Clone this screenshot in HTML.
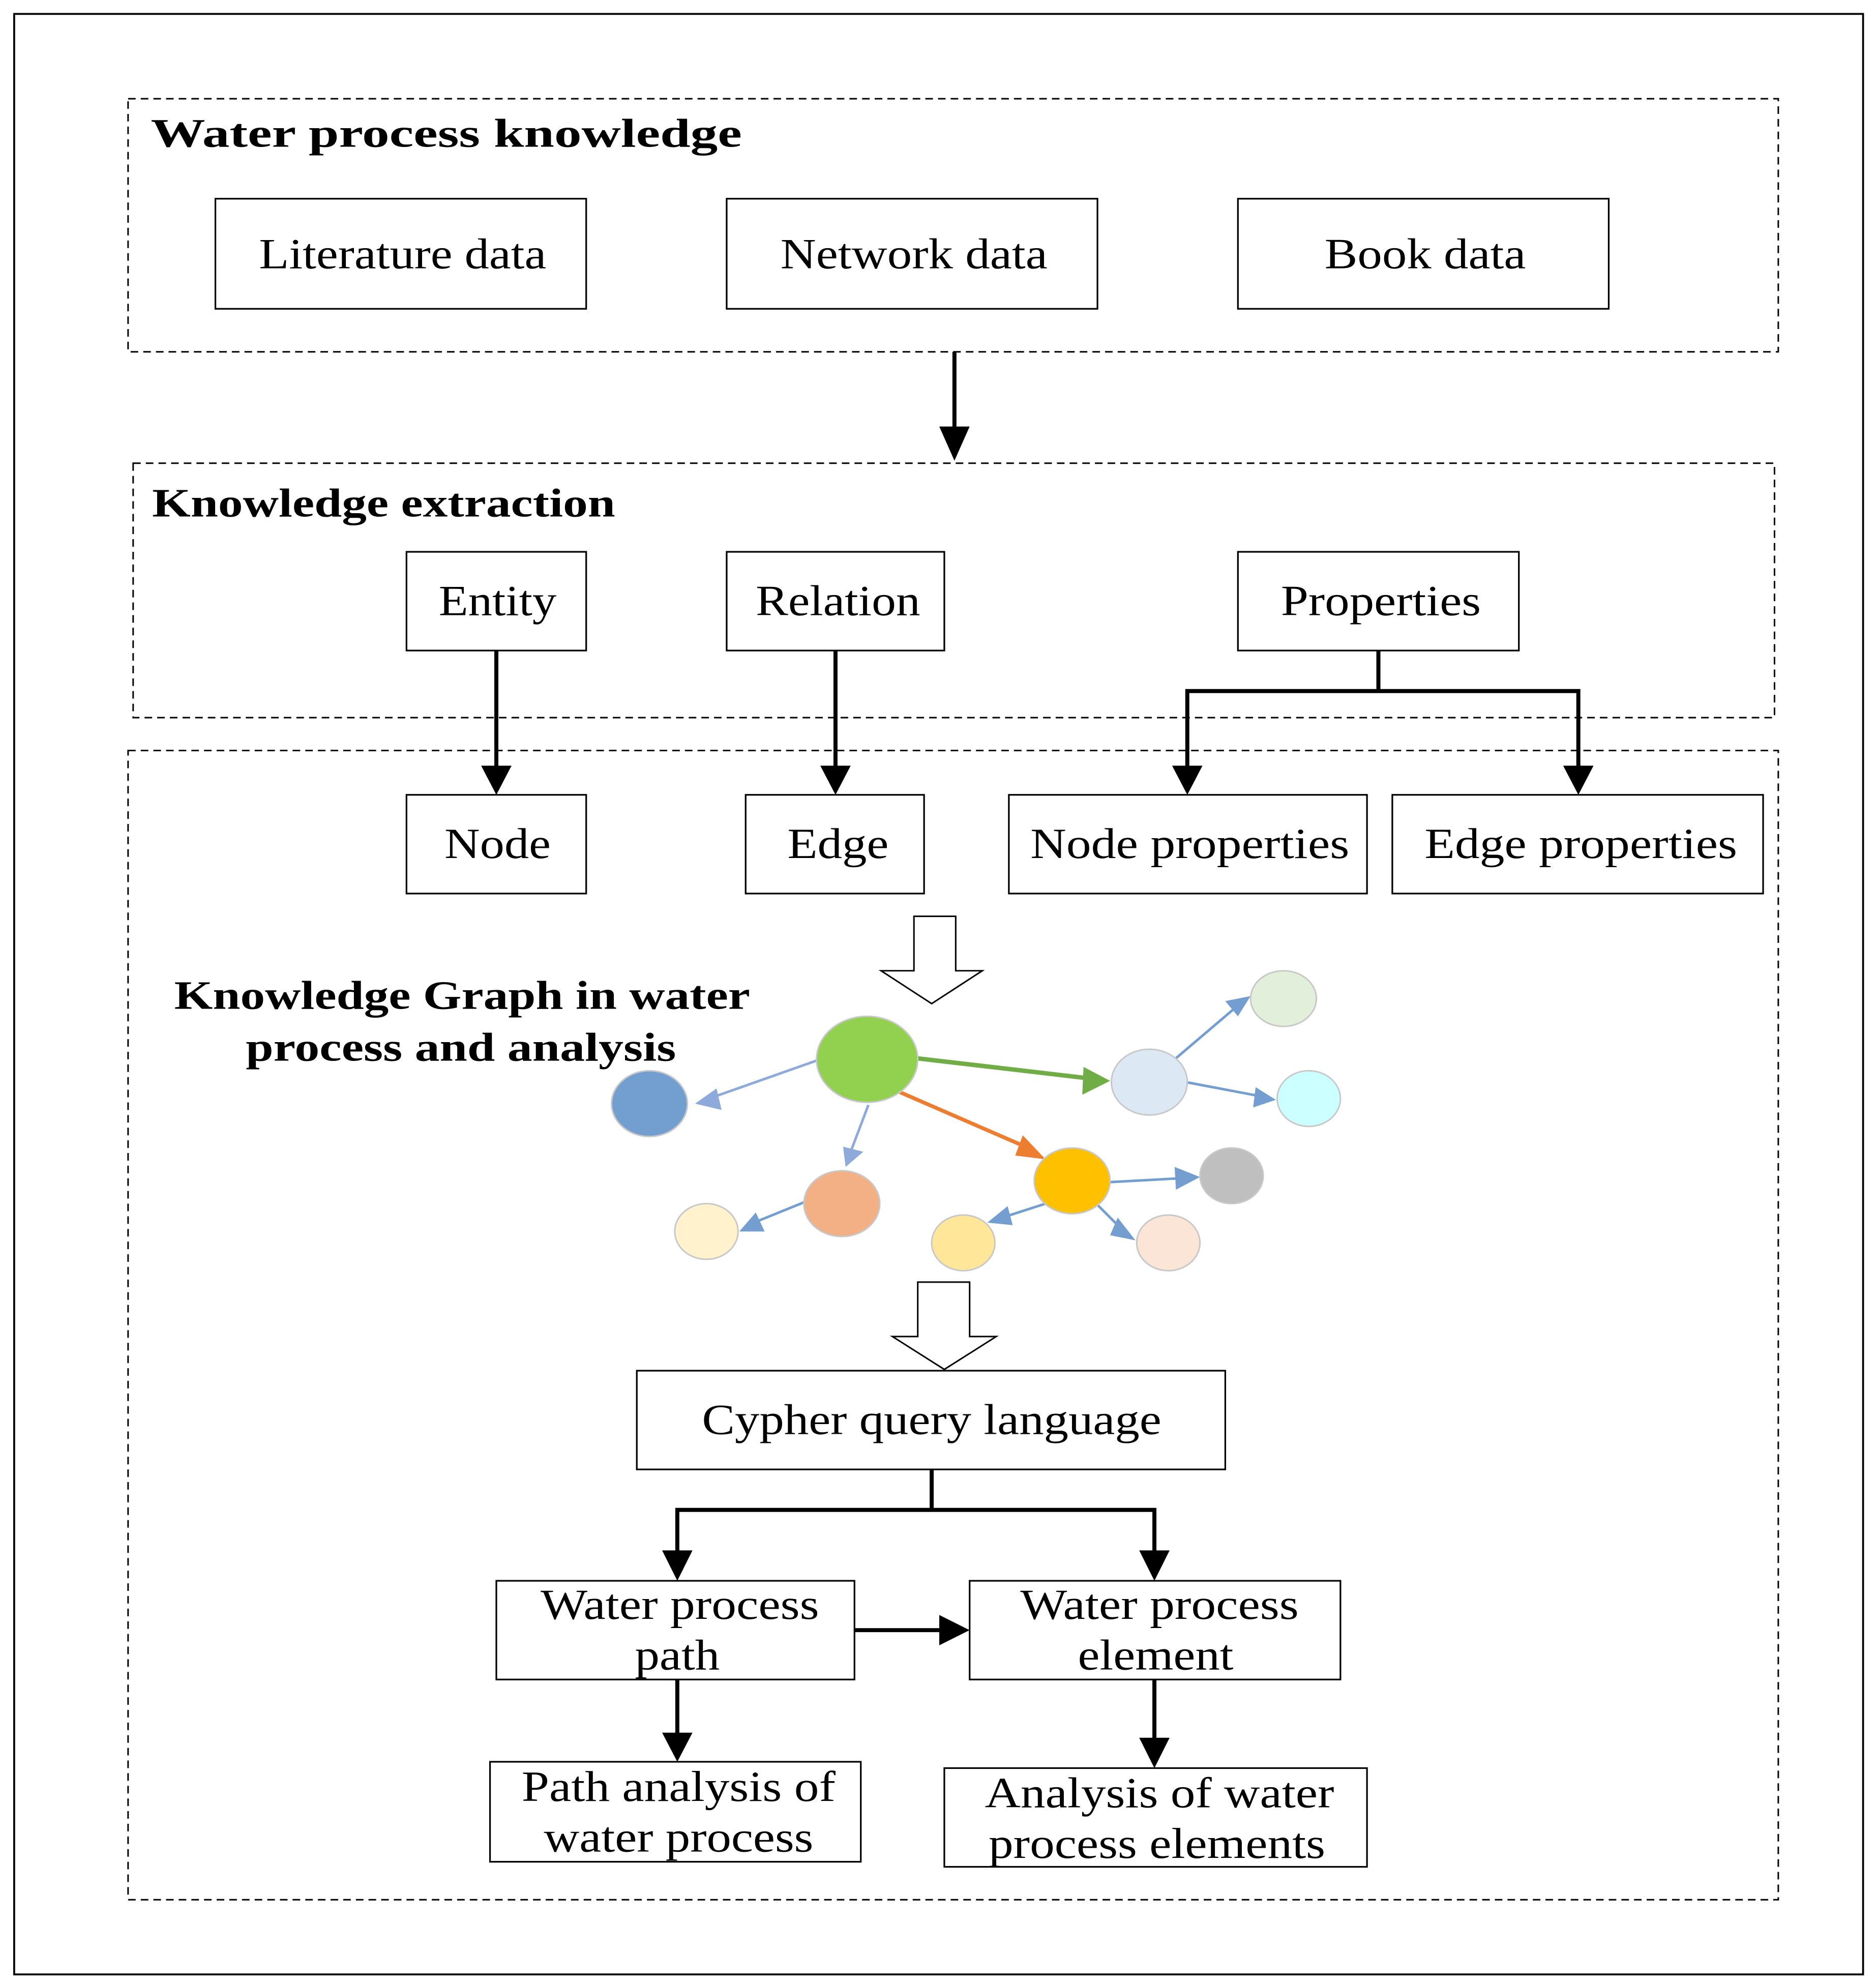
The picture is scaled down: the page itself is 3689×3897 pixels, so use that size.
<!DOCTYPE html>
<html><head><meta charset="utf-8"><style>
html,body{margin:0;padding:0;background:#fff;}
svg{display:block;}
text{font-family:"Liberation Serif",serif;fill:#000;}
.t{font-size:34px;text-anchor:middle;}
.b{font-size:32px;font-weight:bold;}
.box{fill:#fff;stroke:#000;stroke-width:1.3;}
.dash{fill:none;stroke:#000;stroke-width:1.2;stroke-dasharray:6,4;}
.ln{stroke:#000;stroke-width:3.2;fill:none;}
.el{stroke:#c8c8c8;stroke-width:1.2;}
</style></head><body>
<svg width="3689" height="3897" viewBox="0 0 1482 1566" xmlns="http://www.w3.org/2000/svg">
<rect x="0" y="0" width="1482" height="1566" fill="#fff"/>
<rect x="11" y="11" width="1461" height="1549" fill="none" stroke="#000" stroke-width="1.5"/>

<rect class="dash" x="101" y="78" width="1304" height="200"/>
<text class="b" x="119" y="116" textLength="467" lengthAdjust="spacingAndGlyphs">Water process knowledge</text>
<rect class="box" x="170" y="157" width="293" height="87"/><text class="t" x="318" y="212" textLength="227" lengthAdjust="spacingAndGlyphs">Literature data</text>
<rect class="box" x="574" y="157" width="293" height="87"/><text class="t" x="722" y="212" textLength="211" lengthAdjust="spacingAndGlyphs">Network data</text>
<rect class="box" x="978" y="157" width="293" height="87"/><text class="t" x="1126" y="212" textLength="159" lengthAdjust="spacingAndGlyphs">Book data</text>

<line class="ln" x1="754" y1="278" x2="754" y2="340"/><path d="M742,337 L766,337 L754,364z"/>

<rect class="dash" x="105" y="366" width="1297" height="201"/>
<text class="b" x="120" y="408" textLength="366" lengthAdjust="spacingAndGlyphs">Knowledge extraction</text>
<rect class="box" x="321" y="436" width="142" height="78"/><text class="t" x="393" y="486" textLength="93" lengthAdjust="spacingAndGlyphs">Entity</text>
<rect class="box" x="574" y="436" width="172" height="78"/><text class="t" x="662" y="486" textLength="130" lengthAdjust="spacingAndGlyphs">Relation</text>
<rect class="box" x="978" y="436" width="222" height="78"/><text class="t" x="1091" y="486" textLength="158" lengthAdjust="spacingAndGlyphs">Properties</text>

<rect class="dash" x="101" y="593" width="1304" height="908"/>
<line class="ln" x1="392" y1="514" x2="392" y2="608"/><path d="M380,605 L404,605 L392,628z"/>
<line class="ln" x1="660" y1="514" x2="660" y2="608"/><path d="M648,605 L672,605 L660,628z"/>
<path class="ln" d="M1089,514 V546 H938 V608 M1089,546 H1247 V608"/>
<path d="M926,605 L950,605 L938,628z"/><path d="M1235,605 L1259,605 L1247,628z"/>

<rect class="box" x="321" y="628" width="142" height="78"/><text class="t" x="393" y="678" textLength="84" lengthAdjust="spacingAndGlyphs">Node</text>
<rect class="box" x="589" y="628" width="141" height="78"/><text class="t" x="662" y="678" textLength="80" lengthAdjust="spacingAndGlyphs">Edge</text>
<rect class="box" x="797" y="628" width="283" height="78"/><text class="t" x="940" y="678" textLength="252" lengthAdjust="spacingAndGlyphs">Node properties</text>
<rect class="box" x="1100" y="628" width="293" height="78"/><text class="t" x="1249" y="678" textLength="247" lengthAdjust="spacingAndGlyphs">Edge properties</text>

<path d="M722,724 H755 V767 H776 L736,793 L696,767 H722z" fill="#fff" stroke="#000" stroke-width="1.2"/>
<text class="b" x="365" y="797" text-anchor="middle" textLength="455" lengthAdjust="spacingAndGlyphs">Knowledge Graph in water</text>
<text class="b" x="364" y="838" text-anchor="middle" textLength="340" lengthAdjust="spacingAndGlyphs">process and analysis</text>

<g stroke-width="2">
<line x1="645" y1="838" x2="560" y2="868" stroke="#8eaadb"/><path d="M549,872 L566,860 L570,877z" fill="#8eaadb"/>
<line x1="686" y1="873" x2="672" y2="910" stroke="#8eaadb"/><path d="M668,922 L666,906 L682,910z" fill="#8eaadb"/>
<line x1="723" y1="836" x2="860" y2="852" stroke="#70ad47" stroke-width="3.5"/><path d="M877,854 L856,843 L855,865z" fill="#70ad47"/>
<line x1="711" y1="863" x2="810" y2="906" stroke="#ed7d31" stroke-width="3"/><path d="M826,916 L808,897 L802,913z" fill="#ed7d31"/>
<line x1="928" y1="837" x2="975" y2="797" stroke="#739ecf"/><path d="M988,787 L968,791 L978,803z" fill="#739ecf"/>
<line x1="937" y1="855" x2="995" y2="866" stroke="#739ecf"/><path d="M1008,869 L992,859 L990,875z" fill="#739ecf"/>
<line x1="877" y1="934" x2="932" y2="931" stroke="#739ecf"/><path d="M948,930 L928,922 L929,940z" fill="#739ecf"/>
<line x1="826" y1="951" x2="795" y2="961" stroke="#739ecf"/><path d="M780,966 L796,953 L800,968z" fill="#739ecf"/>
<line x1="867" y1="952" x2="885" y2="970" stroke="#739ecf"/><path d="M897,980 L883,962 L877,976z" fill="#739ecf"/>
<line x1="635" y1="950" x2="598" y2="965" stroke="#739ecf"/><path d="M584,973 L597,958 L604,973z" fill="#739ecf"/>
</g>
<g class="el">
<ellipse cx="685" cy="837" rx="40" ry="34" fill="#92d050"/>
<ellipse cx="513" cy="872" rx="30" ry="26" fill="#729fcf"/>
<ellipse cx="908" cy="855" rx="30" ry="26" fill="#dce9f5"/>
<ellipse cx="1014" cy="789" rx="26" ry="22" fill="#e2efda"/>
<ellipse cx="1034" cy="868" rx="25" ry="22" fill="#ccffff"/>
<ellipse cx="847" cy="933" rx="30" ry="26" fill="#ffc000"/>
<ellipse cx="973" cy="929" rx="25" ry="22" fill="#bfbfbf"/>
<ellipse cx="665" cy="951" rx="30" ry="26" fill="#f2b084"/>
<ellipse cx="558" cy="973" rx="25" ry="22" fill="#fff2cc"/>
<ellipse cx="761" cy="982" rx="25" ry="22" fill="#ffe699"/>
<ellipse cx="923" cy="982" rx="25" ry="22" fill="#fbe5d6"/>
</g>

<path d="M725,1013 H766 V1056 H787 L746,1082 L705,1056 H725z" fill="#fff" stroke="#000" stroke-width="1.2"/>
<rect class="box" x="503" y="1083" width="465" height="78"/><text class="t" x="736" y="1133" textLength="363" lengthAdjust="spacingAndGlyphs">Cypher query language</text>
<path class="ln" d="M736,1161 V1193 H535 V1228 M736,1193 H912 V1228"/>
<path d="M523,1225 L547,1225 L535,1249z"/><path d="M900,1225 L924,1225 L912,1249z"/>

<rect class="box" x="392" y="1249" width="283" height="78"/>
<text class="t" x="537" y="1279" textLength="220" lengthAdjust="spacingAndGlyphs">Water process</text><text class="t" x="535" y="1319" textLength="67" lengthAdjust="spacingAndGlyphs">path</text>
<rect class="box" x="766" y="1249" width="293" height="78"/>
<text class="t" x="916" y="1279" textLength="220" lengthAdjust="spacingAndGlyphs">Water process</text><text class="t" x="913" y="1319" textLength="123" lengthAdjust="spacingAndGlyphs">element</text>
<line class="ln" x1="675" y1="1288" x2="745" y2="1288"/><path d="M742,1276 L742,1300 L766,1288z"/>

<line class="ln" x1="535" y1="1327" x2="535" y2="1372"/><path d="M523,1369 L547,1369 L535,1392z"/>
<line class="ln" x1="912" y1="1327" x2="912" y2="1376"/><path d="M900,1373 L924,1373 L912,1397z"/>

<rect class="box" x="387" y="1392" width="293" height="79"/>
<text class="t" x="536" y="1423" textLength="248" lengthAdjust="spacingAndGlyphs">Path analysis of</text><text class="t" x="536" y="1463" textLength="213" lengthAdjust="spacingAndGlyphs">water process</text>
<rect class="box" x="746" y="1397" width="334" height="78"/>
<text class="t" x="916" y="1428" textLength="276" lengthAdjust="spacingAndGlyphs">Analysis of water</text><text class="t" x="914" y="1468" textLength="266" lengthAdjust="spacingAndGlyphs">process elements</text>
</svg>
</body></html>
